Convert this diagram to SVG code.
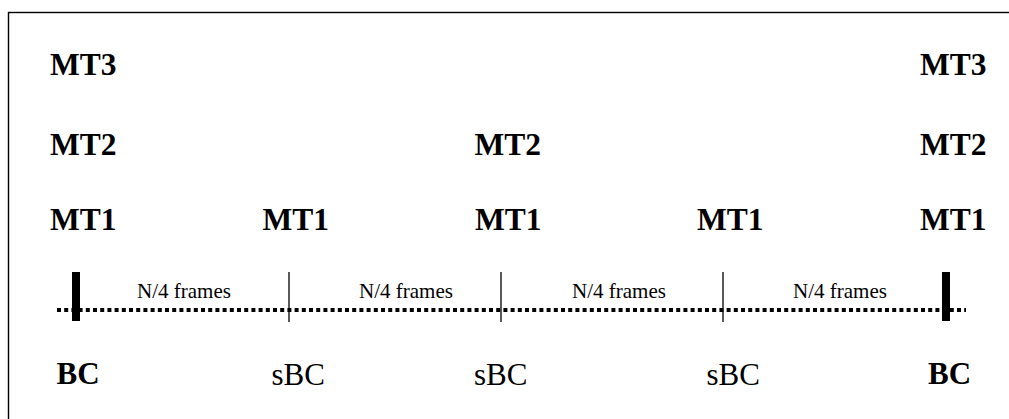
<svg xmlns="http://www.w3.org/2000/svg" width="1009" height="419" viewBox="0 0 1009 419">
<style>
.mt{font-family:"Liberation Serif","Times New Roman",serif;font-weight:bold;font-size:31.5px;fill:#000}
.bc{font-family:"Liberation Serif","Times New Roman",serif;font-weight:bold;font-size:31px;fill:#000}
.sbc{font-family:"Liberation Serif","Times New Roman",serif;font-size:31px;fill:#000}
.lbl{font-family:"Liberation Serif","Times New Roman",serif;font-size:21px;fill:#000;text-anchor:middle}
.thin{stroke:#000;stroke-width:1.3}
.thick{fill:#000}
</style>
<rect x="0" y="0" width="1009" height="419" fill="#fff"/>
<rect id="frame" x="8.5" y="12.5" width="1010" height="420" fill="none" stroke="#000" stroke-width="1.4"/>
<g id="connectors">
<line x1="57" y1="310" x2="966" y2="310" stroke="#000" stroke-width="4" stroke-dasharray="4 3.2"/>
<rect class="thick" x="72" y="272" width="8" height="49"/>
<rect class="thick" x="942" y="272" width="8" height="49"/>
<line class="thin" x1="289" y1="272" x2="289" y2="322"/>
<line class="thin" x1="501" y1="272" x2="501" y2="322"/>
<line class="thin" x1="723" y1="272" x2="723" y2="322"/>
</g>
<g id="col0">
<text class="mt" x="50" y="75">MT3</text>
<text class="mt" x="50" y="155">MT2</text>
<text class="mt" x="50" y="230">MT1</text>
<text class="bc" x="56.5" y="384">BC</text>
</g>
<g id="col1">
<text class="mt" x="262.5" y="230">MT1</text>
<text class="sbc" x="271.5" y="385">sBC</text>
</g>
<g id="col2">
<text class="mt" x="474.5" y="155">MT2</text>
<text class="mt" x="475" y="230">MT1</text>
<text class="sbc" x="474" y="385">sBC</text>
</g>
<g id="col3">
<text class="mt" x="697" y="230">MT1</text>
<text class="sbc" x="706.5" y="385">sBC</text>
</g>
<g id="col4">
<text class="mt" x="920" y="75">MT3</text>
<text class="mt" x="920" y="155">MT2</text>
<text class="mt" x="920" y="230">MT1</text>
<text class="bc" x="928" y="384">BC</text>
</g>
<g id="labels">
<text class="lbl" x="184" y="298">N/4 frames</text>
<text class="lbl" x="406" y="298">N/4 frames</text>
<text class="lbl" x="619" y="298">N/4 frames</text>
<text class="lbl" x="840" y="298">N/4 frames</text>
</g>
</svg>
